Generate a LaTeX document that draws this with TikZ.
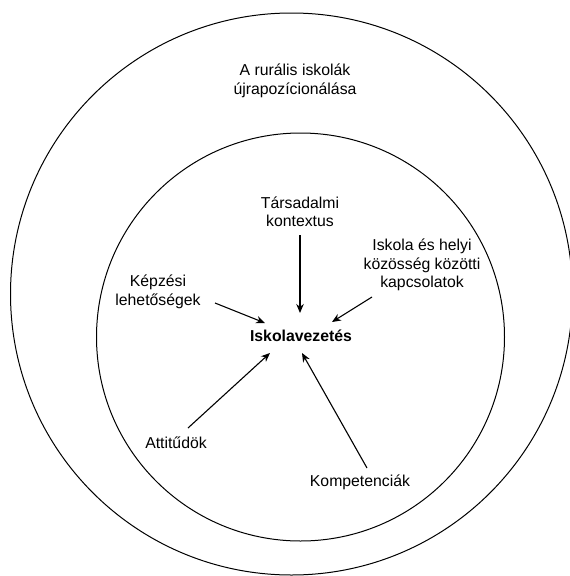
\documentclass[tikz,border=0pt]{standalone}
\usepackage{fontspec}
\setmainfont{Liberation Sans}
\usetikzlibrary{arrows.meta,calc}
\tikzset{
  lbl/.style={align=center, inner sep=0pt, font=\fontsize{15.8}{18.5}\selectfont},
  ring/.style={draw=black, line width=1pt},
  arr/.style={draw=black, line width=1.1pt, -{Stealth[length=9pt,width=7.5pt]}}
}
\begin{document}
\begin{tikzpicture}[x=1pt,y=-1pt]
\useasboundingbox (0,0) rectangle (570,576);
\fill[white] (0,0) rectangle (570,576);
\draw[ring] (291.5,294) circle[radius=281pt];
\draw[ring] (300.5,337) circle[radius=204pt];
\node[lbl] (rur) at (295,81) {A rurális iskolák\\újrapozícionálása};
\node[lbl, font=\fontsize{15.8}{18.5}\selectfont\bfseries] (iv) at (301,336) {Iskolavezetés};
\node[lbl] (tars) at (300,212) {Társadalmi\\kontextus};
\node[lbl] (kep) at (158,292) {Képzési\\lehetőségek};
\node[lbl] (isk) at (422,265) {Iskola és helyi\\közösség közötti\\kapcsolatok};
\node[lbl] (att) at (176,443) {Attitűdök};
\node[lbl] (komp) at (360,482) {Kompetenciák};
\draw[arr] ($(tars.center)+(0,23)$) -- ($(iv.center)+(-1,-23)$);
\draw[arr] ($(kep.center)+(57,11)$) -- ($(iv.center)+(-36,-13)$);
\draw[arr] ($(isk.center)+(-50,32)$) -- ($(iv.center)+(31,-14)$);
\draw[arr] ($(att.center)+(12,-15)$) -- ($(iv.center)+(-31,17)$);
\draw[arr] ($(komp.center)+(7,-14)$) -- ($(iv.center)+(1,17)$);
\end{tikzpicture}
\end{document}
